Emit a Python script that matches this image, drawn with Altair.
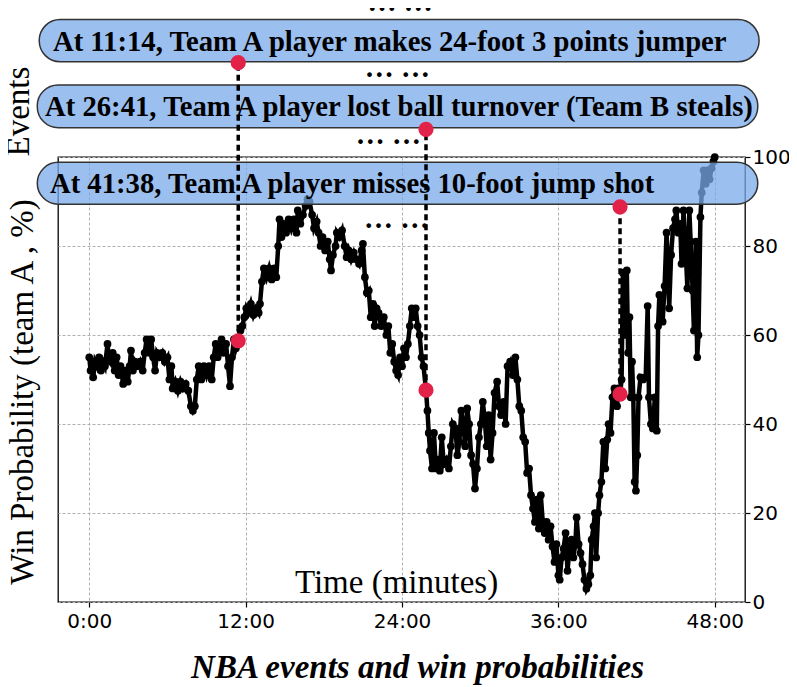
import altair as alt
import pandas as pd

# ---------------- data ----------------
times = [0.0,0.1,0.2,0.3,0.45,0.6,0.75,0.9,1.05,1.2,1.4,1.5,1.65,1.8,1.95,2.1,2.25,2.4,2.6,2.8,2.95,3.1,3.2,3.35,3.5,3.7,3.9,4.1,4.25,4.4,4.6,4.75,4.9,5.05,5.2,5.4,5.6,5.8,6.0,6.15,6.3,6.4,6.6,6.8,7.0,7.2,7.4,7.6,7.8,7.95,8.1,8.25,8.4,8.6,8.8,9.0,9.2,9.4,9.55,9.7,9.85,10.0,10.15,10.3,10.5,10.65,10.8,10.95,11.1,11.25,11.43,
         11.6,11.75,11.9,12.05,12.2,12.4,12.6,12.8,13.0,13.1,13.25,13.4,13.6,13.8,14.0,14.2,14.35,14.5,14.6,14.75,14.9,15.1,15.3,15.5,15.7,15.9,16.0,16.2,16.4,16.6,16.75,16.9,17.1,17.25,17.45,17.6,17.75,17.9,18.1,18.3,18.45,18.55,18.7,18.9,19.0,19.2,19.4,19.6,19.75,19.9,20.1,20.3,20.5,20.7,20.9,21.0,21.15,21.3,21.45,21.6,21.75,21.9,22.05,22.2,22.4,22.6,22.8,22.95,23.1,23.25,23.4,23.55,23.7,23.85,24.0,24.15,24.3,24.45,24.6,24.75,24.9,25.05,25.2,25.35,25.5,25.65,25.84,
         25.95,26.05,26.15,26.3,26.45,26.6,26.75,26.9,27.05,27.2,27.4,27.6,27.75,27.9,28.1,28.25,28.4,28.55,28.7,28.85,29.0,29.15,29.3,29.45,29.6,29.75,29.9,30.05,30.2,30.35,30.5,30.65,30.8,30.95,31.1,31.3,31.45,31.6,31.8,31.95,32.1,32.3,32.5,32.7,32.85,33.0,33.15,33.3,33.45,33.6,33.75,33.9,34.05,34.2,34.35,34.5,34.65,34.8,34.95,35.1,35.25,35.4,35.55,35.7,35.85,36.0,36.1,36.25,36.4,36.55,36.7,36.85,37.0,37.15,37.3,37.4,37.55,37.7,37.85,38.0,38.15,38.3,38.45,38.55,38.7,38.8,38.9,39.05,39.15,39.3,39.45,39.6,39.75,39.85,40.0,40.15,40.3,40.5,40.6,40.73,
         40.85,40.95,41.05,41.15,41.25,41.35,41.45,41.55,41.65,41.75,41.85,41.95,42.05,42.15,42.3,42.5,42.7,42.85,42.95,43.1,43.25,43.4,43.55,43.65,43.75,43.9,44.0,44.15,44.3,44.4,44.5,44.65,44.8,44.95,45.05,45.2,45.35,45.45,45.6,45.75,45.9,46.05,46.15,46.3,46.4,46.55,46.65,46.75,46.9,47.0,47.15,47.3,47.45,47.6,47.75,47.9,48.0]
probs = [55,52,54,50.5,54,53,55,52,54,53,58,55,54,56,52,55,51,53,49,52,49.5,53,56.5,52,54,53,54,52,56,59,56,59,55,52,56,55,56,54,55,50,53,48,49.5,47.5,49.5,48,49,47.5,44,43,44,50,53,50,53,51,53,50,55,58,55,57,59,56,58,53,48.5,55,59,57,58.7,
         61,62,64,66,65,67,64.5,66,65,67,72,75,73,75,72.5,75,73,80,86,82,85,83,86,84,86,83,88,85,87,89,90.5,90,87,84,85.5,83,80,82,79,81,77,74.5,78,80,83,82,83.5,80,77.5,79,77,78.5,77,76,79,80.5,73,69.5,70,64,67,62,66,65,62,64,60,62,56,58,54,52,51,55,53,57,55,58,62,66,64,66,62,60,55,53,47.6,
         43,38,34,30,38,30,32,29.5,37,31,32,30,35,40,39,33,36,43,40,35,43.5,40,33,31,25.5,30,37,40,45,41,35,42,32,38,47,49.5,44,42,45,40,53,54,51,55,50,44,43,37,36,29,30,24,21,18,23,16.5,24,18,15.5,18,14,17,12.5,9,13,6,5,10,12,15.5,7,12,14,10,13,19,13,11,8.5,5,3,4,6,14,17,20,10,20,24,27,36,30,36.5,40,38,46,48,44,48,46.7,
         50,74,68,60,74.5,56,64,46,54,46,27,25,33,46,50.5,50,50.5,66.5,46,40,39,46,38.5,62,69,66,63,71,83,76,66,78,84,86,88,83,85,76,88,80,70.5,88,81,70,61,81,55,60,86.5,92,97,94,97,95,97.5,99,100]

event_times = [11.43, 25.84, 40.73]
event_probs = [58.7, 47.6, 46.7]
event_tops = [121.2, 106.2, 88.8]
event_texts = [
    "At 11:14, Team A player makes 24-foot 3 points jumper",
    "At 26:41, Team A player lost ball turnover (Team B steals)",
    "At 41:38, Team A player misses 10-foot jump shot",
]
box_left = [-3.84, -3.99, -3.99]
box_right = [51.4, 51.3, 51.3]
box_top = [130.9, 116.2, 98.8]
box_bottom = [121.4, 106.6, 89.4]
text_x = [-2.79, -3.40, -3.02]
text_y = [123.9, 109.2, 92.0]

ellipsis_x = [23.85, 23.65, 22.96, 23.58]
ellipsis_y = [132.8, 118.0, 102.9, 84.0]

x_ticks = [0, 12, 24, 36, 48]
y_ticks = [0, 20, 40, 60, 80, 100]

SERIF = "Times New Roman, Liberation Serif, serif"

# ---------------- frames ----------------
df = pd.DataFrame({"t": times, "p": probs})
ev = pd.DataFrame({"t": event_times, "p": event_probs, "top": event_tops})
dots = pd.DataFrame({"t": event_times + event_times, "p": event_probs + event_tops})
boxes = pd.DataFrame({"x0": box_left, "x1": box_right, "y0": box_bottom, "y1": box_top,
                      "tx": text_x, "ty": text_y, "label": event_texts})
ell = pd.DataFrame({"x": ellipsis_x, "y": ellipsis_y, "label": ["\u2026 \u2026"] * 4})

xs = alt.Scale(domain=[-2.40, 50.32], nice=False, zero=False)
ys = alt.Scale(domain=[0, 100], nice=False, zero=False)

x_axis = alt.Axis(
    values=x_ticks, labelExpr="datum.value + ':00'", title=None, domain=False,
    grid=True, gridDash=[3, 2], gridColor="#b0b0b0", gridWidth=1,
    tickColor="black", tickSize=5, tickWidth=1.2, labelPadding=4,
    labelFont="DejaVu Sans", labelFontSize=20, labelColor="black")
y_axis = alt.Axis(
    orient="right", values=y_ticks, title=None, domain=False,
    grid=True, gridDash=[3, 2], gridColor="#b0b0b0", gridWidth=1,
    tickColor="black", tickSize=5, tickWidth=1.2, labelPadding=2,
    labelFont="DejaVu Sans", labelFontSize=20, labelColor="black")


def X(f):
    return alt.X(f, scale=xs, axis=x_axis, title=None)


def Y(f):
    return alt.Y(f, scale=ys, axis=y_axis, title=None)


line = alt.Chart(df).mark_line(
    color="black", strokeWidth=4.5,
    point=alt.OverlayMarkDef(filled=True, color="black", size=60, opacity=1),
).encode(x=X("t:Q"), y=Y("p:Q"))

box = alt.Chart(boxes).mark_rect(
    cornerRadius=21, fill="#7AA9EA", fillOpacity=0.75, stroke="#333333", strokeWidth=1.5,
).encode(x=X("x0:Q"), x2="x1:Q", y=Y("y0:Q"), y2="y1:Q")

box_text = alt.Chart(boxes).mark_text(
    align="left", baseline="alphabetic", font=SERIF, fontWeight="bold", fontSize=28.7, color="black",
).encode(x=X("tx:Q"), y=Y("ty:Q"), text="label:N")

rules = alt.Chart(ev).mark_rule(color="black", strokeWidth=3.5, strokeDash=[6, 4]).encode(
    x=X("t:Q"), y=Y("p:Q"), y2="top:Q")

red = alt.Chart(dots).mark_circle(color="#E32249", size=230, opacity=1).encode(
    x=X("t:Q"), y=Y("p:Q"))

ellipses = alt.Chart(ell).mark_text(
    align="center", baseline="alphabetic", font=SERIF, fontWeight="bold", fontSize=29, color="black",
).encode(x=X("x:Q"), y=Y("y:Q"), text="label:N")


def label(txt, x, y, angle=0, size=33, weight="normal", style="normal"):
    d = pd.DataFrame({"x": [x], "y": [y], "label": [txt]})
    return alt.Chart(d).mark_text(
        align="center", baseline="alphabetic", angle=angle, font=SERIF,
        fontSize=size, fontWeight=weight, fontStyle=style, color="black",
    ).encode(x=X("x:Q"), y=Y("y:Q"), text="label:N")


ylab = label("Win Probability (team A , %)", -4.32, 47.2, angle=270)
evlab = label("Events", -4.6, 110.2, angle=270)
xlab = label("Time (minutes)", 23.58, 2.02)
title = label("NBA events and win probabilities", 25.19, -17.08, weight="bold", style="italic")

chart = alt.layer(
    line, box, box_text, rules, red, ellipses, ylab, evlab, xlab, title
).properties(
    width=687, height=445,
    autosize=alt.AutoSizeParams(type="none"),
    padding={"left": 50, "top": 149, "right": 44, "bottom": 85},
).configure_view(stroke="black", strokeWidth=1.3)

chart.save("out.html", embed_options={"renderer": "svg", "actions": False})
